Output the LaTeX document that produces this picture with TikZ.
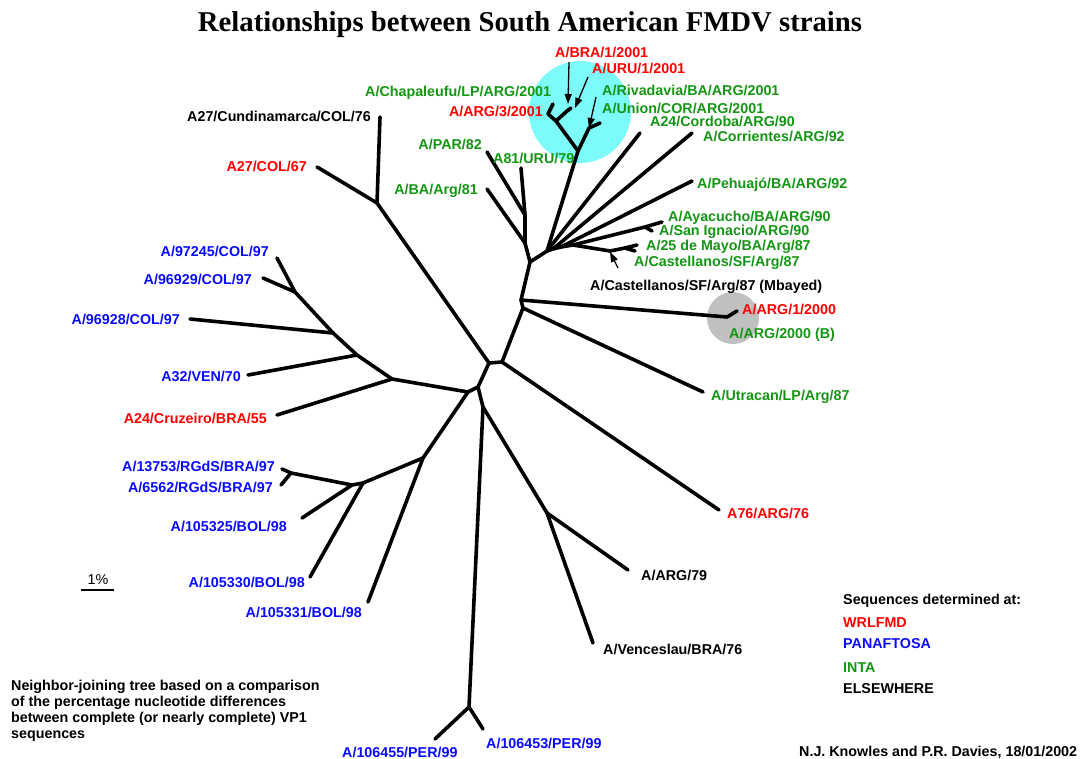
\documentclass[tikz,border=0pt]{standalone}
\usepackage{fontspec}
\setmainfont{Liberation Sans}
\newfontfamily\titlefont{Liberation Serif}
\usetikzlibrary{arrows.meta}
\definecolor{lred}{RGB}{255,0,0}
\definecolor{lblue}{RGB}{10,10,255}
\definecolor{lgreen}{RGB}{20,150,20}
\definecolor{cyanc}{RGB}{125,250,250}
\definecolor{grayc}{RGB}{192,192,192}
\begin{document}
\begin{tikzpicture}[x=1pt,y=-1pt,
  br/.style={line width=3.6pt, line cap=round, line join=round},
  arr/.style={line width=1.3pt, -{Triangle[length=10pt,width=7pt]}},
  lbl/.style={inner sep=0pt, font=\fontsize{14.3}{16.3}\selectfont\bfseries},
  lw/.style={lbl, anchor=base west},
  le/.style={lbl, anchor=base east}]
\useasboundingbox (0,0) rectangle (1086,759);
% highlight circles
\fill[cyanc] (580,112) circle (51);
\fill[grayc] (733,318) circle (26);
% title
\node[inner sep=0pt, anchor=base, font=\titlefont\fontsize{28.7}{30}\selectfont\bfseries] (title) at (530,32) {Relationships between South American FMDV strains};
% internal coordinates
\coordinate (jA) at (377,203);
\coordinate (n1) at (489,363);
\coordinate (n2) at (502,362);
\coordinate (n3) at (478,387);
\coordinate (n4) at (468,392);
\coordinate (n5) at (483,407);
\coordinate (u1) at (523,308);
\coordinate (u2) at (521,300);
\coordinate (aJ) at (727,317);
\coordinate (jT) at (530,262);
\coordinate (jBA) at (525,243);
\coordinate (jPAR) at (525,215);
\coordinate (jR) at (547,251);
\coordinate (jR2) at (553,249);
\coordinate (jR3) at (561,247);
\coordinate (jR4) at (573,245);
\coordinate (jAy) at (645,227);
\coordinate (jM) at (610,251);
\coordinate (jM2) at (625,248);
\coordinate (cR) at (578,151);
\coordinate (cQ) at (556,121);
\coordinate (cA3) at (548,114);
\coordinate (cB) at (567,111);
\coordinate (cS) at (589,128);
\coordinate (l0) at (392,379);
\coordinate (l1) at (357,355);
\coordinate (l2) at (333,333);
\coordinate (l3) at (295,292);
\coordinate (k1) at (423,458);
\coordinate (k2) at (363,483);
\coordinate (k3) at (352,485);
\coordinate (k4) at (291,473);
\coordinate (pJ) at (469,707);
\coordinate (vJ) at (547,513);
% tips
\coordinate (tCund) at (380,117);
\coordinate (tCOL) at (317,167);
\coordinate (tPAR) at (487,152);
\coordinate (tURU) at (521,168);
\coordinate (tBA) at (487,189);
\coordinate (tCh) at (553,104);
\coordinate (tBR) at (571,108);
\coordinate (tUn) at (600,123);
\coordinate (tCor) at (640,133);
\coordinate (tCorr) at (692,133);
\coordinate (tPeh) at (692,181);
\coordinate (tAy) at (662,222);
\coordinate (tSI) at (652,231);
\coordinate (tMay) at (637,245);
\coordinate (tCas) at (635,251);
\coordinate (tArg1) at (737,311);
\coordinate (tUtr) at (703,392);
\coordinate (tA76) at (719,510);
\coordinate (tA79) at (628,570);
\coordinate (tVen) at (593,643);
\coordinate (tP3) at (483,729);
\coordinate (tP5) at (435,739);
\coordinate (t31) at (368,602);
\coordinate (t30) at (310,577);
\coordinate (t25) at (302,518);
\coordinate (t137) at (282,469);
\coordinate (t656) at (281,485);
\coordinate (tCru) at (277,415);
\coordinate (tVEN) at (248,375);
\coordinate (t928) at (190,319);
\coordinate (t929) at (263,278);
\coordinate (t245) at (277,258);
% branches
\draw[br] (jA) -- (tCund);
\draw[br] (jA) -- (tCOL);
\draw[br] (jA) -- (n1);
\draw[br] (n1) -- (n2);
\draw[br] (n1) -- (n3);
\draw[br] (n2) -- (u1);
\draw[br] (n2) -- (tA76);
\draw[br] (u1) -- (tUtr);
\draw[br] (u1) -- (u2);
\draw[br] (u2) -- (aJ) -- (tArg1);
\draw[br] (u2) -- (jT);
\draw[br] (jT) -- (jBA);
\draw[br] (jBA) -- (tBA);
\draw[br] (jBA) -- (jPAR);
\draw[br] (jPAR) -- (tPAR);
\draw[br] (jPAR) -- (tURU);
\draw[br] (jT) -- (jR);
\draw[br] (jR) -- (cR);
\draw[br] (jR) -- (tCor);
\draw[br] (jR) -- (jR2) -- (jR3) -- (jR4);
\draw[br] (jR2) -- (tCorr);
\draw[br] (jR3) -- (tPeh);
\draw[br] (jR4) -- (jAy);
\draw[br] (jAy) -- (tAy);
\draw[br] (jAy) -- (tSI);
\draw[br] (jR4) -- (jM) -- (jM2);
\draw[br] (jM2) -- (tMay);
\draw[br] (jM2) -- (tCas);
\draw[br] (cR) -- (cQ);
\draw[br] (cQ) -- (cA3) -- (tCh);
\draw[br] (cQ) -- (cB) -- (tBR);
\draw[br] (cR) -- (cS) -- (tUn);
\draw[br] (n3) -- (n4);
\draw[br] (n4) -- (l0);
\draw[br] (n4) -- (k1);
\draw[br] (n3) -- (n5);
\draw[br] (n5) -- (pJ);
\draw[br] (n5) -- (vJ);
\draw[br] (pJ) -- (tP3);
\draw[br] (pJ) -- (tP5);
\draw[br] (vJ) -- (tA79);
\draw[br] (vJ) -- (tVen);
\draw[br] (l0) -- (tCru);
\draw[br] (l0) -- (l1);
\draw[br] (l1) -- (tVEN);
\draw[br] (l1) -- (l2);
\draw[br] (l2) -- (t928);
\draw[br] (l2) -- (l3);
\draw[br] (l3) -- (t929);
\draw[br] (l3) -- (t245);
\draw[br] (k1) -- (t31);
\draw[br] (k1) -- (k2);
\draw[br] (k2) -- (t30);
\draw[br] (k2) -- (k3);
\draw[br] (k3) -- (t25);
\draw[br] (k3) -- (k4);
\draw[br] (k4) -- (t137);
\draw[br] (k4) -- (t656);
% labels
\node[lw, lred] (lBRA) at (555,58) {A/BRA/1/2001};
\node[lw, lred] (lURU1) at (592,74) {A/URU/1/2001};
\node[lw, lgreen] (lRiv) at (602,96) {A/Rivadavia/BA/ARG/2001};
\node[lw, lgreen] (lUni) at (602,114) {A/Union/COR/ARG/2001};
\node[lw, lgreen] (lCh) at (365,97) {A/Chapaleufu/LP/ARG/2001};
\node[le, lred] (lA3) at (543,117) {A/ARG/3/2001};
\node[le] (lCund) at (371,122) {A27/Cundinamarca/COL/76};
\node[lw, lgreen] (lCor) at (650,127) {A24/Cordoba/ARG/90};
\node[lw, lgreen] (lCorr) at (703,142) {A/Corrientes/ARG/92};
\node[le, lgreen] (lPAR) at (482,150) {A/PAR/82};
\node[lw, lgreen] (lURU) at (493,164) {A81/URU/79};
\node[le, lred] (lCOL) at (307,172) {A27/COL/67};
\node[le, lgreen] (lBA) at (478,195) {A/BA/Arg/81};
\node[lw, lgreen] (lPeh) at (697,189) {A/Pehuajó/BA/ARG/92};
\node[lw, lgreen] (lAy) at (668,222) {A/Ayacucho/BA/ARG/90};
\node[lw, lgreen] (lSI) at (659,236) {A/San Ignacio/ARG/90};
\node[lw, lgreen] (lMay) at (646,251) {A/25 de Mayo/BA/Arg/87};
\node[lw, lgreen] (lCas) at (634,266) {A/Castellanos/SF/Arg/87};
\node[lw] (lMb) at (590,290) {A/Castellanos/SF/Arg/87 (Mbayed)};
\node[lw, lred] (lArg1) at (742,314) {A/ARG/1/2000};
\node[lw, lgreen] (lArgB) at (729,338) {A/ARG/2000 (B)};
\node[lw, lgreen] (lUtr) at (711,400) {A/Utracan/LP/Arg/87};
\node[lw, lred] (lA76) at (727,518) {A76/ARG/76};
\node[lw] (lA79) at (641,580) {A/ARG/79};
\node[lw] (lVen) at (603,654) {A/Venceslau/BRA/76};
\node[lw, lblue] (lP3) at (486,748) {A/106453/PER/99};
\node[lw, lblue] (lP5) at (342,757) {A/106455/PER/99};
\node[le, lblue] (l31) at (362,617) {A/105331/BOL/98};
\node[le, lblue] (l30) at (305,587) {A/105330/BOL/98};
\node[le, lblue] (l25) at (287,531) {A/105325/BOL/98};
\node[le, lblue] (l656) at (273,492) {A/6562/RGdS/BRA/97};
\node[le, lblue] (l137) at (275,471) {A/13753/RGdS/BRA/97};
\node[le, lred] (lCru) at (267,423) {A24/Cruzeiro/BRA/55};
\node[le, lblue] (lVEN) at (241,381) {A32/VEN/70};
\node[le, lblue] (l928) at (180,324) {A/96928/COL/97};
\node[le, lblue] (l929) at (252,284) {A/96929/COL/97};
\node[le, lblue] (l245) at (269,256) {A/97245/COL/97};
% arrows
\coordinate (aBs) at (569,62);
\coordinate (aBe) at (568,104);
\coordinate (aUs) at (588,77);
\coordinate (aUe) at (575,108);
\coordinate (aNs) at (596,97);
\coordinate (aNe) at (589,128);
\coordinate (aMs) at (618,268);
\coordinate (aMe) at (610,252);
\draw[arr] (aBs) -- (aBe);
\draw[arr] (aUs) -- (aUe);
\draw[arr] (aNs) -- (aNe);
\draw[arr] (aMs) -- (aMe);
% scale bar
\coordinate (sb1) at (81,590);
\coordinate (sb2) at (114,590);
\draw[line width=1.8pt] (sb1) -- (sb2);
\node[inner sep=0pt, anchor=base, font=\fontsize{14.3}{16}\selectfont] (sbl) at (98,584) {1\%};
% caption
\node[lbl, anchor=north west, align=left] (cap) at (11,679.5) {Neighbor-joining tree based on a comparison\\of the percentage nucleotide differences\\between complete (or nearly complete) VP1\\sequences};
% legend
\node[lw] (lg0) at (843,604) {Sequences determined at:};
\node[lw, lred] (lg1) at (843,627) {WRLFMD};
\node[lw, lblue] (lg2) at (843,648) {PANAFTOSA};
\node[lw, lgreen] (lg3) at (843,672) {INTA};
\node[lw] (lg4) at (843,693) {ELSEWHERE};
\node[lw] (cred) at (799,756) {N.J. Knowles and P.R. Davies, 18/01/2002};
\end{tikzpicture}
\end{document}
